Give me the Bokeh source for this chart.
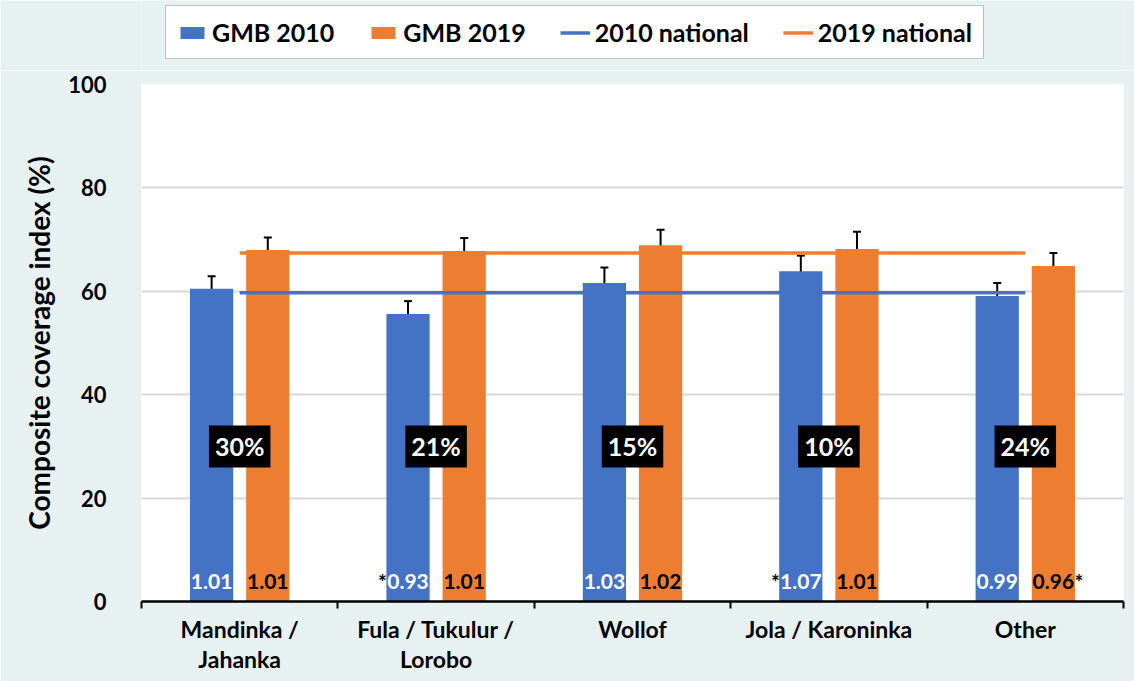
from bokeh.plotting import figure
from bokeh.layouts import column
from bokeh.models import (ColumnDataSource, Range1d, LinearAxis,
                          FixedTicker, Whisker, TeeHead, Legend, LegendItem)
from bokeh.transform import dodge
from bokeh.core.properties import value
from bokeh.embed import file_html
from bokeh.resources import INLINE

# ---- data ----
categories = ["Mandinka / Jahanka", "Fula / Tukulur / Lorobo", "Wollof", "Jola / Karoninka", "Other"]
tick_labels = ["Mandinka /\nJahanka", "Fula / Tukulur /\nLorobo", "Wollof", "Jola / Karoninka", "Other"]
gmb_2010 = [60.5, 55.6, 61.6, 63.9, 59.1]
gmb_2010_err = [2.4, 2.5, 3.0, 3.0, 2.5]
gmb_2019 = [68.0, 67.8, 68.9, 68.2, 64.9]
gmb_2019_err = [2.4, 2.5, 3.0, 3.3, 2.5]
national_2010 = [59.7, 59.7, 59.7, 59.7, 59.7]
national_2019 = [67.4, 67.4, 67.4, 67.4, 67.4]
ratio_2010 = ["1.01", "0.93", "1.03", "1.07", "0.99"]
star_2010 = ["", "*", "", "*", ""]
ratio_2019 = ["1.01", "1.01", "1.02", "1.01", "0.96"]
star_2019 = ["", "", "", "", "*"]
share = ["30%", "21%", "15%", "10%", "24%"]
y_ticks = [0, 20, 40, 60, 80, 100]
series_names = ["GMB 2010", "GMB 2019", "2010 national", "2019 national"]

BLUE = "#4472C4"
ORANGE = "#ED7D31"
FONT = "Lato"
BG = "#E8F1F2"

n = len(categories)
centers = [i + 0.5 for i in range(n)]   # category slots on a 0..n axis
bounds = list(range(n + 1))

src = ColumnDataSource(dict(
    x=centers,
    v10=gmb_2010, lo10=[v - e for v, e in zip(gmb_2010, gmb_2010_err)],
    hi10=[v + e for v, e in zip(gmb_2010, gmb_2010_err)],
    v19=gmb_2019, lo19=[v - e for v, e in zip(gmb_2019, gmb_2019_err)],
    hi19=[v + e for v, e in zip(gmb_2019, gmb_2019_err)],
    n10=national_2010, n19=national_2019,
    r10=ratio_2010, r19=ratio_2019,
    share=share, zero=[0] * n, mid=[30] * n,
))
i10 = [i for i, s in enumerate(star_2010) if s]
i19 = [i for i, s in enumerate(star_2019) if s]
star10_src = ColumnDataSource(dict(x=[centers[i] for i in i10], s=[star_2010[i] for i in i10],
                                   zero=[0] * len(i10)))
star19_src = ColumnDataSource(dict(x=[centers[i] for i in i19], s=[star_2019[i] for i in i19],
                                   zero=[0] * len(i19)))

# ---------------- main chart ----------------
p = figure(width=1134, height=611, x_range=Range1d(0, n), y_range=Range1d(0, 100),
           output_backend="svg", toolbar_location=None, x_axis_location=None,
           min_border_left=141, min_border_right=11, min_border_top=14, min_border_bottom=80)
p.background_fill_color = "white"
p.border_fill_color = BG
p.outline_line_color = None
p.xgrid.grid_line_color = None
p.ygrid.grid_line_color = "#D9D9D9"
p.ygrid.grid_line_width = 2
p.ygrid.ticker = FixedTicker(ticks=y_ticks)

ya = p.yaxis[0]
ya.ticker = FixedTicker(ticks=y_ticks)
ya.axis_line_color = None
ya.major_tick_line_color = None
ya.minor_tick_line_color = None
ya.major_label_text_font = FONT
ya.major_label_text_font_style = "bold"
ya.major_label_text_font_size = "22px"
ya.major_label_text_color = "black"
ya.major_label_standoff = 29
ya.axis_label = "Composite coverage index (%)"
ya.axis_label_text_font = FONT
ya.axis_label_text_font_style = "bold"
ya.axis_label_text_font_size = "28px"
ya.axis_label_text_color = "black"
ya.axis_label_standoff = 9

cat_axis = LinearAxis(ticker=FixedTicker(ticks=centers, minor_ticks=bounds),
                      major_tick_line_color=None,
                      minor_tick_in=0, minor_tick_out=7, minor_tick_line_width=2,
                      minor_tick_line_color="black",
                      axis_line_width=2.5, axis_line_color="black",
                      major_label_standoff=6,
                      major_label_text_font=FONT, major_label_text_font_style="bold",
                      major_label_text_font_size="23px", major_label_text_color="black",
                      major_label_text_line_height=1.1,
                      major_label_overrides=dict(zip(centers, tick_labels)))
p.add_layout(cat_axis, "below")

off = 0.143
bw = 0.22
bar_style10 = dict(fill_color=BLUE, line_color=None)
bar_style19 = dict(fill_color=ORANGE, line_color=None)
line_style10 = dict(line_color=BLUE, line_width=3.5)
line_style19 = dict(line_color=ORANGE, line_width=3.5)

p.vbar(x=dodge("x", -off), top="v10", width=bw, source=src, **bar_style10)
p.vbar(x=dodge("x", off), top="v19", width=bw, source=src, **bar_style19)
p.line(x="x", y="n10", source=src, **line_style10)
p.line(x="x", y="n19", source=src, **line_style19)

for base_off, lo, hi in ((-off, "lo10", "hi10"), (off, "lo19", "hi19")):
    w = Whisker(base=dodge("x", base_off), lower=lo, upper=hi, source=src,
                line_color="black", line_width=2,
                upper_head=TeeHead(size=8, line_width=2, line_color="black"),
                lower_head=TeeHead(size=8, line_width=2, line_color="black"))
    p.add_layout(w)

common = dict(text_font=value(FONT), text_font_style="bold", text_font_size="21px",
              text_baseline="middle", y_offset=-20)
p.text(x=dodge("x", -off), y="zero", text="r10", text_color="white",
       text_align="center", source=src, **common)
p.text(x=dodge("x", off), y="zero", text="r19", text_color="black",
       text_align="center", source=src, **common)
p.text(x=dodge("x", -off), y="zero", text="s", text_color="black",
       text_align="right", x_offset=-21, source=star10_src, **common)
p.text(x=dodge("x", off), y="zero", text="s", text_color="black",
       text_align="left", x_offset=21, source=star19_src, **common)

p.text(x="x", y="mid", text="share", source=src, text_color="white",
       text_font=value(FONT), text_font_style="bold", text_font_size="25px",
       text_align="center", text_baseline="middle",
       background_fill_color="black", padding=6)

# ---------------- legend strip (proxy renderers lie far outside its visible y range) ----------------
lg = figure(width=1134, height=70, x_range=Range1d(0, n), y_range=Range1d(1000, 1001),
            output_backend="svg", toolbar_location=None, x_axis_location=None,
            y_axis_location=None, min_border=0)
lg.background_fill_color = BG
lg.border_fill_color = BG
lg.outline_line_color = None
lg.grid.visible = False
k1 = lg.vbar(x="x", top="v10", width=bw, source=src, **bar_style10)
k2 = lg.vbar(x="x", top="v19", width=bw, source=src, **bar_style19)
k3 = lg.line(x="x", y="n10", source=src, **line_style10)
k4 = lg.line(x="x", y="n19", source=src, **line_style19)
legend = Legend(items=[LegendItem(label=nm, renderers=[r])
                       for nm, r in zip(series_names, [k1, k2, k3, k4])],
                orientation="horizontal", location=(24, 11), margin=0,
                glyph_width=30, glyph_height=15, label_standoff=5, spacing=34, padding=11,
                label_text_font=FONT, label_text_font_style="bold", label_text_font_size="25px",
                label_text_color="black", label_height=22,
                border_line_color="#7F7F7F", border_line_width=1.5,
                background_fill_color="white", background_fill_alpha=1.0)
lg.add_layout(legend)

page = column(lg, p, spacing=0)
open("out.html", "w").write(file_html(page, INLINE))
